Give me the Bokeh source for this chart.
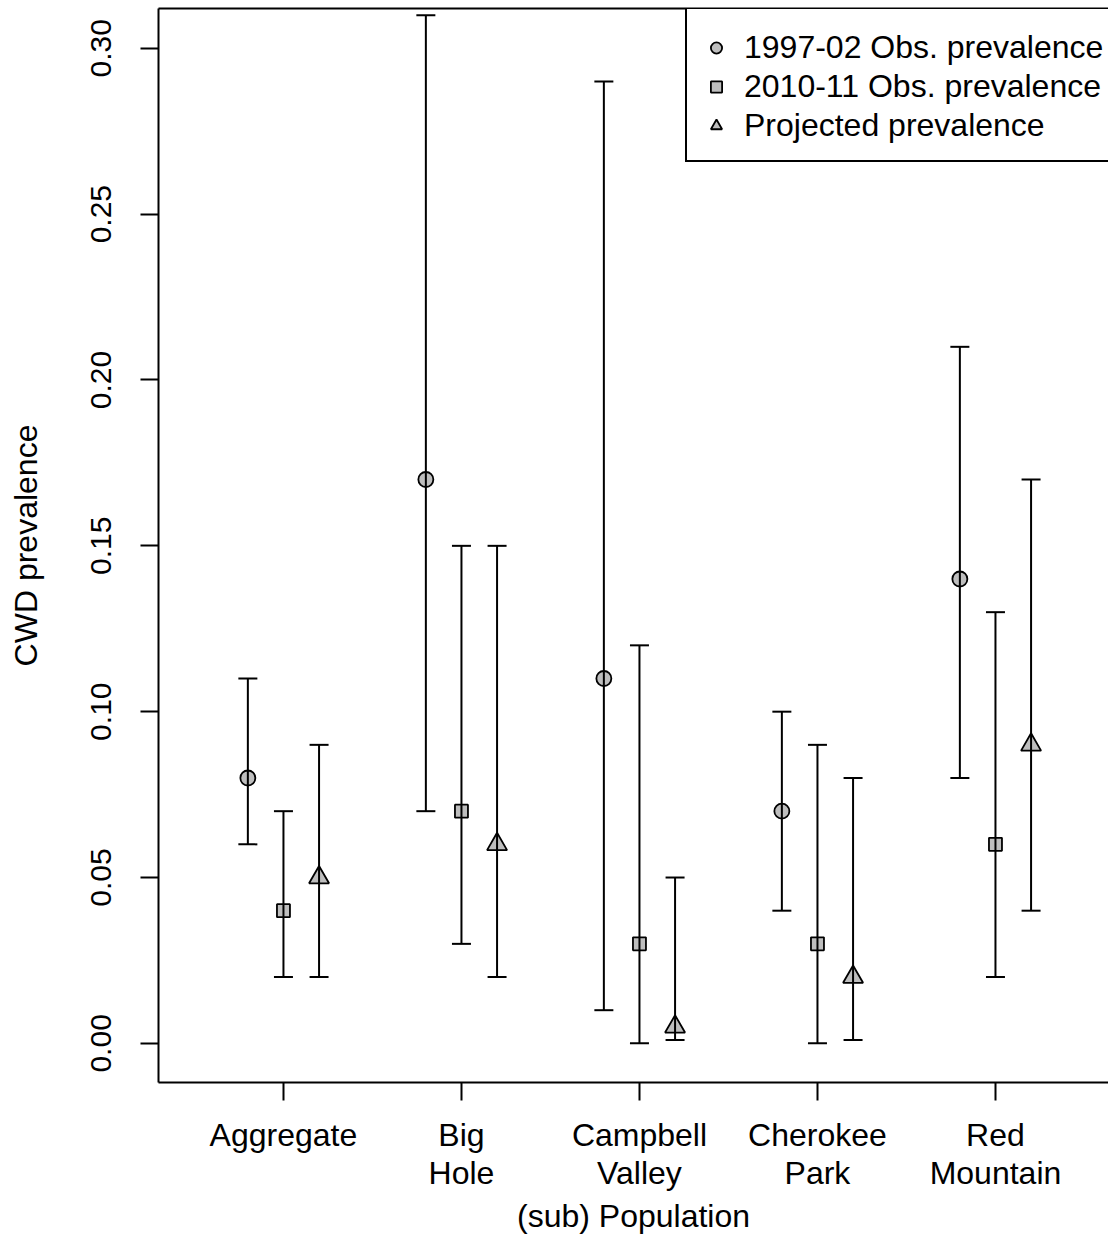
from bokeh.plotting import figure
from bokeh.models import (Range1d, LinearAxis, FixedTicker, Legend, LegendItem,
                          ColumnDataSource, NumeralTickFormatter)
from bokeh.embed import file_html
from bokeh.resources import INLINE

# ---------------- data ----------------
populations = ["Aggregate", "Big\nHole", "Campbell\nValley", "Cherokee\nPark", "Red\nMountain"]

obs_9702 = [0.08, 0.17, 0.11, 0.07, 0.14]
obs_9702_lo = [0.06, 0.07, 0.01, 0.04, 0.08]
obs_9702_hi = [0.11, 0.31, 0.29, 0.10, 0.21]

obs_1011 = [0.04, 0.07, 0.03, 0.03, 0.06]
obs_1011_lo = [0.02, 0.03, 0.00, 0.00, 0.02]
obs_1011_hi = [0.07, 0.15, 0.12, 0.09, 0.13]

proj = [0.05, 0.06, 0.005, 0.02, 0.09]
proj_lo = [0.02, 0.02, 0.001, 0.001, 0.04]
proj_hi = [0.09, 0.15, 0.05, 0.08, 0.17]

y_ticks = [0.00, 0.05, 0.10, 0.15, 0.20, 0.25, 0.30]
series_labels = ["1997-02 Obs. prevalence", "2010-11 Obs. prevalence", "Projected prevalence"]

FONT = "Liberation Sans"
FS = "32px"
GREY = "#BEBEBE"

pos = [i + 1 for i in range(len(populations))]

p = figure(width=1108, height=1237, output_backend="svg", toolbar_location=None,
           x_range=Range1d(0.298, 5.635), y_range=Range1d(-0.0118, 0.312),
           x_axis_location=None, y_axis_location=None,
           min_border_left=158, min_border_right=0, min_border_top=8, min_border_bottom=155,
           outline_line_color=None, background_fill_color="white", border_fill_color="white")
p.grid.visible = False

# left axis
yaxis = LinearAxis(ticker=FixedTicker(ticks=y_ticks, minor_ticks=[]),
                   formatter=NumeralTickFormatter(format="0.00"),
                   major_label_orientation="vertical",
                   axis_label="CWD prevalence")
yaxis.major_tick_out = 18
yaxis.major_tick_in = 0
yaxis.minor_tick_out = 0
yaxis.minor_tick_in = 0
yaxis.major_label_standoff = 29
yaxis.axis_label_standoff = 45
yaxis.axis_line_width = 2
yaxis.major_tick_line_width = 2
yaxis.major_label_text_font = FONT
yaxis.major_label_text_font_size = "30px"
yaxis.major_label_text_color = "black"
yaxis.axis_label_text_font = FONT
yaxis.axis_label_text_font_size = FS
yaxis.axis_label_text_font_style = "normal"
yaxis.axis_label_text_color = "black"
p.add_layout(yaxis, "left")

# bottom axis with category labels
xaxis = LinearAxis(ticker=FixedTicker(ticks=pos, minor_ticks=[]),
                   major_label_overrides={v: t for v, t in zip(pos, populations)},
                   axis_label="(sub) Population")
xaxis.major_tick_out = 18
xaxis.major_tick_in = 0
xaxis.minor_tick_out = 0
xaxis.minor_tick_in = 0
xaxis.major_label_text_font = FONT
xaxis.major_label_text_font_size = FS
xaxis.major_label_text_color = "black"
xaxis.major_label_text_line_height = 1.08
xaxis.major_label_standoff = 16
xaxis.axis_label_standoff = 4
xaxis.axis_line_width = 2
xaxis.major_tick_line_width = 2
xaxis.axis_label_text_font = FONT
xaxis.axis_label_text_font_size = FS
xaxis.axis_label_text_font_style = "normal"
xaxis.axis_label_text_color = "black"
p.add_layout(xaxis, "below")

# top spine
top = LinearAxis(ticker=FixedTicker(ticks=[], minor_ticks=[]))
top.major_tick_out = 0
top.major_tick_in = 0
top.minor_tick_out = 0
top.minor_tick_in = 0
top.major_label_text_font_size = "0px"
top.major_label_standoff = 0
top.axis_line_width = 2
p.add_layout(top, "above")

series = [
    (obs_9702, obs_9702_lo, obs_9702_hi, -0.2, "circle", 15),
    (obs_1011, obs_1011_lo, obs_1011_hi, 0.0, "square", 13),
    (proj, proj_lo, proj_hi, 0.2, "triangle", 20),
]

renderers = []
for vals, lo, hi, off, marker, size in series:
    xs = [x + off for x in pos]
    src = ColumnDataSource(dict(x=xs, y=vals, lo=lo, hi=hi))
    r = p.scatter("x", "y", source=src, marker=marker, size=size,
                  fill_color=GREY, line_color="black", line_width=1.8)
    renderers.append(r)
    p.segment(x0="x", y0="lo", x1="x", y1="hi", source=src, line_color="black", line_width=2)
    p.scatter("x", "lo", source=src, marker="dash", size=19, line_color="black", line_width=2)
    p.scatter("x", "hi", source=src, marker="dash", size=19, line_color="black", line_width=2)

legend = Legend(items=[LegendItem(label=lbl, renderers=[r]) for lbl, r in zip(series_labels, renderers)],
                location=(527, 920), padding=15, margin=0,
                glyph_width=28, glyph_height=39, label_height=39,
                label_standoff=14, spacing=0,
                title=" ", title_text_font_size="1px", title_standoff=3,
                border_line_color="black", border_line_width=2, border_line_alpha=1.0,
                background_fill_color="white", background_fill_alpha=1.0,
                label_text_font=FONT, label_text_font_size=FS, label_text_color="black")
p.add_layout(legend)

open("out.html", "w").write(file_html(p, INLINE))
